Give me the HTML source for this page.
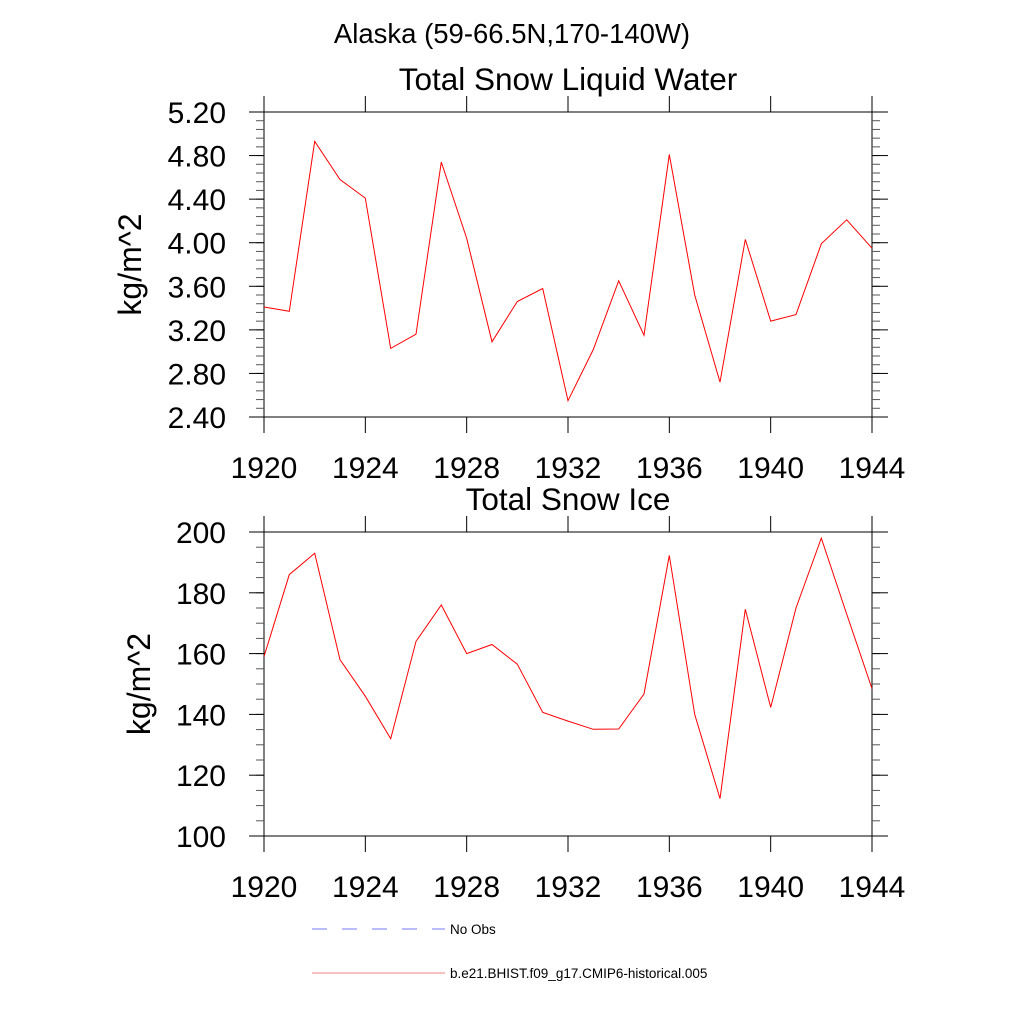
<!DOCTYPE html>
<html><head><meta charset="utf-8"><style>
body{margin:0;background:#fff}
svg text{font-family:"Liberation Sans",sans-serif;fill:#000}
</style></head><body>
<svg width="1024" height="1024" viewBox="0 0 1024 1024">
<text x="512" y="43" font-size="27.5" text-anchor="middle">Alaska (59-66.5N,170-140W)</text>
<g id="p1"></g>
<g id="p2"></g>
<g>
<line x1="312" y1="929" x2="445" y2="929" stroke="#7777ff" stroke-width="1" stroke-dasharray="15,15"/>
<text x="450" y="934" font-size="13.5">No Obs</text>
<line x1="312" y1="973" x2="445" y2="973" stroke="#f08080" stroke-width="1"/>
<text x="450" y="978" font-size="13.5">b.e21.BHIST.f09_g17.CMIP6-historical.005</text>
</g>
</svg>
<script>
const years=[1920,1921,1922,1923,1924,1925,1926,1927,1928,1929,1930,1931,1932,1933,1934,1935,1936,1937,1938,1939,1940,1941,1942,1943,1944];
const liquidWater=[3.41,3.37,4.93,4.58,4.41,3.03,3.16,4.74,4.04,3.09,3.46,3.58,2.55,3.02,3.65,3.15,4.81,3.52,2.72,4.03,3.28,3.34,3.99,4.21,3.95];
const snowIce=[159,186,193,158,146,132,164,176,160,163,156.5,140.7,137.8,135.1,135.2,146.7,192.3,140,112.3,174.6,142.3,175,198,173,148.5];
const xTicks=[1920,1924,1928,1932,1936,1940,1944];
const yTicks1=[2.40,2.80,3.20,3.60,4.00,4.40,4.80,5.20];
const yTicks2=[100,120,140,160,180,200];
const NS='http://www.w3.org/2000/svg';
function mk(p,t,a){const e=document.createElementNS(NS,t);for(const k in a)e.setAttribute(k,a[k]);p.appendChild(e);return e;}
function panel(g,cfg){
  const L=264,R=872,T=cfg.top,B=cfg.bot;
  const sx=v=>L+(v-1920)/(1944-1920)*(R-L);
  const sy=v=>B-(v-cfg.min)/(cfg.max-cfg.min)*(B-T);
  let e=mk(g,'text',{x:568,y:T-22,'font-size':31.5,'text-anchor':'middle'});e.textContent=cfg.title;
  
  
  e=mk(g,'rect',{x:L,y:T,width:R-L,height:B-T,fill:'none',stroke:'#000','stroke-width':1});
  
  
  for(let v=cfg.min;v<=cfg.max+1e-9;v+=cfg.minor){
    const y=sy(v);
    mk(g,'line',{x1:L-8,y1:y,x2:L,y2:y,stroke:'#555','stroke-width':1});
    mk(g,'line',{x1:R,y1:y,x2:R+8,y2:y,stroke:'#555','stroke-width':1});
  }
  cfg.ticks.forEach(v=>{
    const y=sy(v);
    mk(g,'line',{x1:L-15,y1:y,x2:L,y2:y,stroke:'#000','stroke-width':1});
    mk(g,'line',{x1:R,y1:y,x2:R+16,y2:y,stroke:'#000','stroke-width':1});
    const t=mk(g,'text',{x:226,y:y+11,'font-size':30,'text-anchor':'end'});
    t.textContent=cfg.fmt(v);
    
    
  });
  xTicks.forEach(v=>{
    const x=sx(v);
    mk(g,'line',{x1:x,y1:T-16,x2:x,y2:T,stroke:'#000','stroke-width':1});
    mk(g,'line',{x1:x,y1:B,x2:x,y2:B+16,stroke:'#000','stroke-width':1});
    const t=mk(g,'text',{x:x,y:B+61,'font-size':30,'text-anchor':'middle'});
    t.textContent=v;
    
    
  });
  const yl=mk(g,'text',{x:0,y:0,'font-size':32,'text-anchor':'middle',transform:`translate(${cfg.ylx},${(T+B)/2}) rotate(-90)`});
  yl.textContent='kg/m^2';
  
  
  const pts=years.map((yr,i)=>sx(yr).toFixed(1)+','+sy(cfg.data[i]).toFixed(1)).join(' ');
  const pl=mk(g,'polyline',{points:pts,fill:'none',stroke:'#ff0000','stroke-width':1});
  
  
}
panel(document.getElementById('p1'),{top:112,bot:417,min:2.4,max:5.2,minor:0.08,ticks:yTicks1,data:liquidWater,title:'Total Snow Liquid Water',fmt:v=>v.toFixed(2),ylx:141});
panel(document.getElementById('p2'),{top:532,bot:836,min:100,max:200,minor:5,ticks:yTicks2,data:snowIce,title:'Total Snow Ice',fmt:v=>String(v),ylx:150});
</script>
</body></html>
